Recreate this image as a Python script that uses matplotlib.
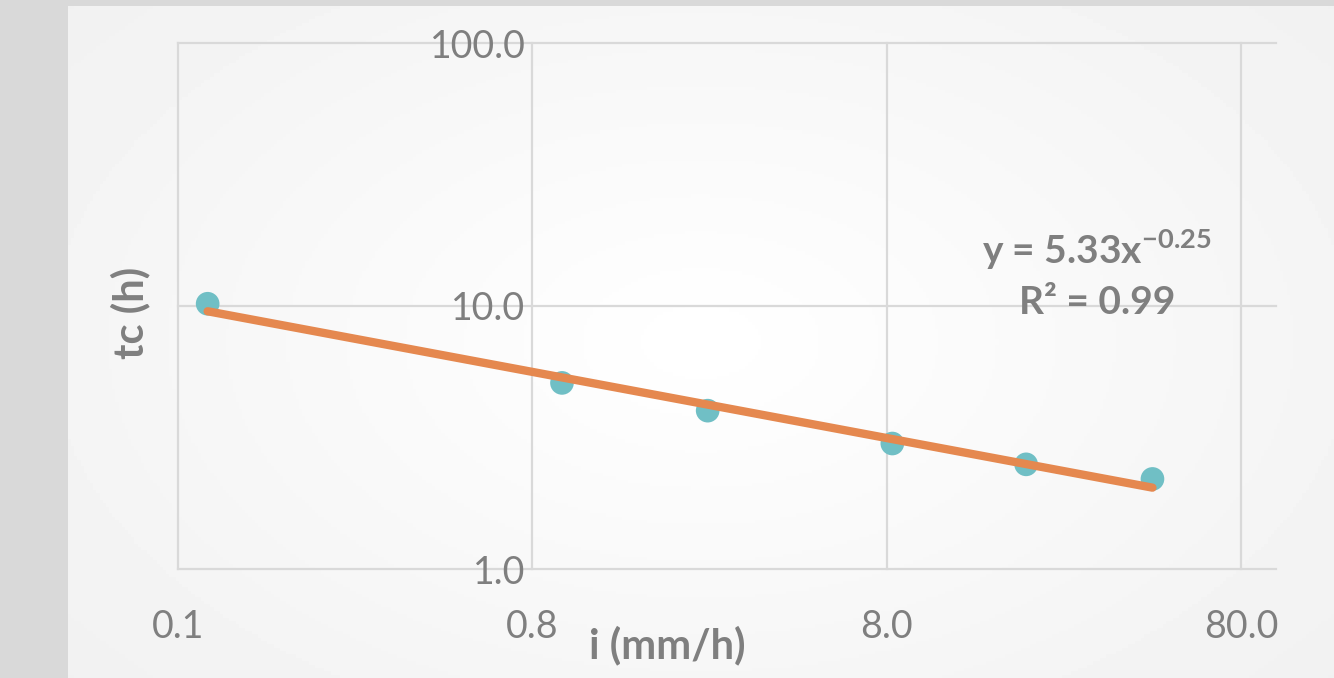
import numpy as np
import matplotlib
matplotlib.use("Agg")
import matplotlib.pyplot as plt
from matplotlib.ticker import FixedLocator, FuncFormatter

plt.rcParams['font.family'] = ['Lato', 'DejaVu Sans']
plt.rcParams['mathtext.fontset'] = 'custom'
plt.rcParams['mathtext.rm'] = 'Lato'
plt.rcParams['mathtext.bf'] = 'Lato:bold'

# data
i_mm_h = [0.097, 0.97, 2.5, 8.3, 19.8, 45.0]
tc_h = [10.2, 5.1, 4.0, 3.0, 2.5, 2.2]
x_ticks = [0.08, 0.8, 8.0, 80.0]
y_ticks = [1.0, 10.0, 100.0]
eq_text = "y = 5.33x"
eq_exp = "-0.25"
r2_text = "R² = 0.99"

grey = '#7f7f7f'
grid_c = '#d9d9d9'

W, H = 1334, 678
fig = plt.figure(figsize=(W / 100, H / 100), dpi=100, facecolor='#d9d9d9')

# panel background with soft radial gradient
bg = fig.add_axes([68 / W, 0, 1 - 68 / W, (H - 6) / H])
bg.set_axis_off()
gy, gx = np.mgrid[0:1:200j, 0:1:400j]
r = np.sqrt(((gx - 0.5) / 0.6) ** 2 + ((gy - 0.5) / 0.7) ** 2)
shade = 1.0 - 0.05 * np.clip(r, 0, 1.2)
bg.imshow(shade, cmap='gray', vmin=0, vmax=1, aspect='auto', extent=[0, 1, 0, 1])

# plot area
left, right, top, bottom = 178, 1276, 43, 569
ax = fig.add_axes([left / W, (H - bottom) / H, (right - left) / W, (bottom - top) / H])
ax.patch.set_alpha(0)
ax.set_xscale('log')
ax.set_yscale('log')
dec = (1241 - 178) / 3.0
ax.set_xlim(x_ticks[0], x_ticks[0] * 10 ** ((right - left) / dec))
ax.set_ylim(y_ticks[0], y_ticks[-1])

ax.xaxis.set_major_locator(FixedLocator(x_ticks))
ax.yaxis.set_major_locator(FixedLocator(y_ticks))
ax.xaxis.set_minor_locator(FixedLocator([]))
ax.yaxis.set_minor_locator(FixedLocator([]))
fmt = FuncFormatter(lambda v, p: f"{v:.1f}")
ax.xaxis.set_major_formatter(fmt)
ax.yaxis.set_major_formatter(fmt)

for s in ax.spines.values():
    s.set_visible(False)
# vertical axis crosses at 0.8
ax.spines['left'].set_position(('data', x_ticks[1]))

ax.tick_params(axis='both', length=0, labelsize=27, labelcolor=grey)
ax.tick_params(axis='x', pad=29)
ax.tick_params(axis='y', pad=5)

ax.grid(True, color=grid_c, linewidth=1.6)
ax.set_axisbelow(True)
for gl in ax.get_xgridlines() + ax.get_ygridlines():
    gl.set_clip_on(False)

# trendline (power fit in log space)
k, b = np.polyfit(np.log10(i_mm_h), np.log10(tc_h), 1)
xf = np.geomspace(min(i_mm_h), max(i_mm_h), 50)
ax.plot(xf, 10 ** b * xf ** k, color='#e5884f', linewidth=6, solid_capstyle='round', zorder=4)

ax.scatter(i_mm_h, tc_h, s=290, color='#70bfc5', edgecolors='none', zorder=3)

ax.set_xlabel("i (mm/h)", fontsize=30, fontweight='bold', color=grey, va='center')
ax.xaxis.set_label_coords((667 - left) / (right - left), (bottom - 645) / (bottom - top))
ax.set_ylabel("tc (h)", fontsize=30, fontweight='bold', color=grey, va='center')
ax.yaxis.set_label_coords((130 - left) / (right - left), (bottom - 313) / (bottom - top))

ex = (1097 - left) / (right - left)
ax.text(ex, (bottom - 250) / (bottom - top), eq_text + r"$^{\mathbf{" + eq_exp + "}}$",
        transform=ax.transAxes, ha='center', va='center', fontsize=28,
        fontweight='bold', color=grey)
ax.text(ex, (bottom - 302) / (bottom - top), r2_text, transform=ax.transAxes,
        ha='center', va='center', fontsize=28, fontweight='bold', color=grey)

fig.savefig("out.png", dpi=100, facecolor=fig.get_facecolor())
